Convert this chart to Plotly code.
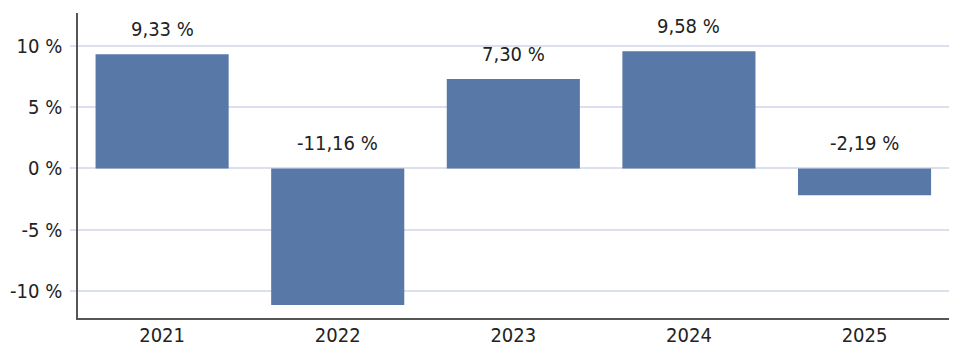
import plotly.graph_objects as go

# Annual returns
years = ["2021", "2022", "2023", "2024", "2025"]
returns = [9.33, -11.16, 7.30, 9.58, -2.19]
y_ticks = [-10, -5, 0, 5, 10]
y_tick_labels = ["-10 %", "-5 %", "0 %", "5 %", "10 %"]

BAR = "#5878a8"
GRID = "#dcdfee"
AXIS = "#555555"
TEXT = "#222222"
FONT = "DejaVu Sans Condensed, Roboto, sans-serif"

pos = list(range(len(years)))

fig = go.Figure(
    go.Bar(x=pos, y=returns, width=0.758,
           marker=dict(color=BAR, line=dict(width=0)), hoverinfo="skip")
)

# Value labels sit above the bar top, or above the zero line for losses
for i, v in zip(pos, returns):
    fig.add_annotation(
        x=i, y=max(v, 0), yshift=25, yanchor="middle",
        text=f"{v:.2f} %".replace(".", ","), showarrow=False,
        font=dict(size=20, color=TEXT, family=FONT),
    )

fig.update_layout(
    width=955, height=347,
    margin=dict(l=78, r=6, t=13, b=29),
    plot_bgcolor="white", paper_bgcolor="white",
    showlegend=False,
    font=dict(family=FONT, size=20, color=TEXT),
)
fig.update_xaxes(
    range=[-0.479, 4.481], tickvals=pos, ticktext=years, automargin=False,
    showline=True, linecolor=AXIS, linewidth=1.5, showgrid=False,
    zeroline=False, ticks="", tickfont=dict(size=20, color=TEXT),
    ticklabelstandoff=-2,
)
fig.update_yaxes(
    range=[-12.22, 12.7], tickvals=y_ticks, ticktext=y_tick_labels,
    automargin=False,
    showgrid=True, gridcolor=GRID, gridwidth=1.5, zeroline=False,
    showline=True, linecolor=AXIS, linewidth=1.5,
    ticks="outside", ticklen=6, tickcolor=GRID, tickwidth=1.5,
    tickfont=dict(size=20, color=TEXT), ticklabelstandoff=4,
)

fig.write_html("out.html")
